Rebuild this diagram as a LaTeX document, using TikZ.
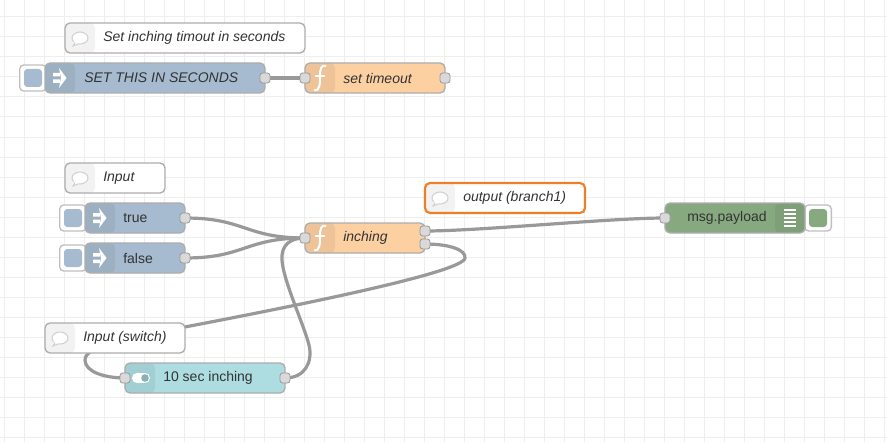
\documentclass[tikz,border=0pt]{standalone}
\usepackage{fontspec}
\setmainfont{Liberation Sans}
\usetikzlibrary{backgrounds}
\definecolor{gridline}{HTML}{EEEEEE}
\definecolor{wire}{HTML}{999999}
\definecolor{nodeline}{HTML}{ADADAD}
\definecolor{inject}{HTML}{A6BBCF}
\definecolor{func}{HTML}{FDD0A2}
\definecolor{debug}{HTML}{87A980}
\definecolor{toggle}{HTML}{ADDCE1}
\definecolor{picked}{HTML}{ED7F26}
\tikzset{
  box/.style={draw=nodeline, line width=1pt, rounded corners=3.75pt, anchor=north west,
    inner sep=0pt, outer sep=0pt, minimum height=22.5pt},
  stripleft/.style={path picture={\fill[black, opacity=.06] (path picture bounding box.north west)
    rectangle ([xshift=22.5pt]path picture bounding box.south west);}},
  stripright/.style={path picture={\fill[black, opacity=.06] (path picture bounding box.north east)
    rectangle ([xshift=-22.5pt]path picture bounding box.south east);}},
  flow/.style={box, fill=#1, stripleft},
  note/.style={box, fill=white, path picture={\fill[black!5] (path picture bounding box.north west)
    rectangle ([xshift=22.5pt]path picture bounding box.south west);}},
  button/.style={draw=black!25, line width=1pt, fill=white, rounded corners=3pt, inner sep=0pt,
    minimum width=20pt, minimum height=19.5pt},
  buttonfill/.style={fill=#1, rounded corners=2.5pt, inner sep=0pt, minimum size=13.5pt},
  port/.style={draw=wire, line width=.6pt, fill=black!15, rounded corners=2pt, inner sep=0pt,
    minimum size=7.5pt},
  lbl/.style={anchor=west, inner sep=0pt, text=black!80, font=\fontsize{10.5pt}{12pt}\selectfont},
  notelbl/.style={lbl, font=\fontsize{10.5pt}{12pt}\selectfont\itshape},
  link/.style={draw=wire, line width=2.4pt},
  pics/bubble/.style={code={
    \draw[black!18, fill=white, line width=.8pt] (0,0) ellipse (8 and 6);
    \fill[white] (-6,3) -- (-8,9) -- (-1,5) -- cycle;
    \draw[black!18, line width=.8pt] (-5,4.5) -- (-7,8) -- (-2,6);}},
  pics/arrowicon/.style={code={
    \fill[white] (-7,-5) rectangle (0,-1.5) (-7,1.5) rectangle (0,5);
    \fill[white] (-1,-10) -- (6.5,0) -- (-1,10) -- (1,0) -- cycle;}},
  pics/funcicon/.style={code={
    \draw[white, line width=1.5pt] (6,-12) .. controls (1,-14) and (0,-8) .. (0,-2)
      .. controls (0,5) and (0,14) .. (-6,12);
    \draw[white, line width=1.1pt] (-5,-2) -- (5,-2);}},
  pics/listicon/.style={code={
    \foreach \yy in {-8,-4,0,4,8} \draw[white, line width=.8pt] (-6,\yy) -- (6,\yy);}},
  pics/toggleicon/.style={code={
    \fill[white] (-4,-5) rectangle (4,5);
    \fill[white] (-4,0) circle (5) (4,0) circle (5);
    \fill[toggle!80!black] (4,0) circle (3.8);}},
}
\begin{document}
\begin{tikzpicture}[x=.75pt, y=-.75pt]
\useasboundingbox (0,0) rectangle (887,442);

% top row
\node [note, minimum width=180pt] (setnote) at (65,23) {};
\pic at (80,38) {bubble};
\node [notelbl] (setnotetext) at (103,38) {Set inching timout in seconds};
\node [button] (setbtn) at (33,78) {};
\node [buttonfill=inject] (setbtnfill) at (33,78) {};
\node [flow=inject, minimum width=165pt] (setinject) at (45,63) {};
\pic at (60,78) {arrowicon};
\node [notelbl] (setinjecttext) at (84,78) {SET THIS IN SECONDS};
\node [port] (setout) at (265,78) {};
\node [flow=func, minimum width=105pt] (timeout) at (305,63) {};
\pic at (320,78) {funcicon};
\node [notelbl] (timeouttext) at (343,78) {set timeout};
\node [port] (timeoutin) at (305,78) {};
\node [port] (timeoutout) at (445,78) {};

% inputs
\node [note, minimum width=75pt] (inputnote) at (65,163) {};
\pic at (80,178) {bubble};
\node [notelbl] (inputnotetext) at (103,178) {Input};
\node [button] (truebtn) at (73,218) {};
\node [buttonfill=inject] (truebtnfill) at (73,218) {};
\node [flow=inject, minimum width=75pt] (true) at (85,203) {};
\pic at (100,218) {arrowicon};
\node [lbl] (truetext) at (123,218) {true};
\node [port] (trueout) at (185,218) {};
\node [button] (falsebtn) at (73,258) {};
\node [buttonfill=inject] (falsebtnfill) at (73,258) {};
\node [flow=inject, minimum width=75pt] (false) at (85,243) {};
\pic at (100,258) {arrowicon};
\node [lbl] (falsetext) at (123,258) {false};
\node [port] (falseout) at (185,258) {};

% function and output
\node [flow=func, minimum width=90pt] (inching) at (305,223) {};
\pic at (320,238) {funcicon};
\node [notelbl] (inchingtext) at (343,238) {inching};
\node [port] (inchingin) at (305,238) {};
\node [port] (inchingouta) at (425,231) {};
\node [port] (inchingoutb) at (425,244) {};
\node [note, draw=picked, line width=1.6pt, minimum width=120pt] (outnote) at (425,183) {};
\pic at (440,198) {bubble};
\node [notelbl] (outnotetext) at (463,198) {output (branch1)};
\node [button] (debugbtn) at (818,218) {};
\node [buttonfill=debug] (debugbtnfill) at (818,218) {};
\node [box, fill=debug, stripright, minimum width=105pt] (debug) at (665,203) {};
\pic at (790,218) {listicon};
\node [lbl] (debugtext) at (687,218) {msg.payload};
\node [port] (debugin) at (665,218) {};

% switch
\node [note, minimum width=105pt] (switchnote) at (45,323) {};
\pic at (60,338) {bubble};
\node [notelbl] (switchnotetext) at (83,338) {Input (switch)};
\node [flow=toggle, minimum width=120pt] (switch) at (125,363) {};
\pic at (141,378) {toggleicon};
\node [lbl] (switchtext) at (163,378) {10 sec inching};
\node [port] (switchin) at (125,378) {};
\node [port] (switchout) at (285,378) {};

\begin{scope}[on background layer]
\fill [white] (0,0) rectangle (887,442);
\foreach \gx in {4,24,...,884} \draw [gridline, line width=.75pt] (\gx,0) -- (\gx,442);
\foreach \gy in {17,37,...,437} \draw [gridline, line width=.75pt] (0,\gy) -- (887,\gy);
\draw [link] (setout.center) -- (timeoutin.center);
\draw [link] (trueout.center) .. controls (245,218) and (245,238) .. (inchingin.center);
\draw [link] (falseout.center) .. controls (245,258) and (245,238) .. (inchingin.center);
\draw [link] (inchingouta.center) .. controls (480,231) and (610,218) .. (debugin.center);
\draw [link] (inchingoutb.center) .. controls (450,244) and (466,250) .. (465,258)
  .. controls (464,272) and (300,305) .. (190,326)
  .. controls (130,338) and (85,345) .. (85,360)
  .. controls (85,372) and (105,378) .. (switchin.center);
\draw [link] (switchout.center) .. controls (305,378) and (313,362) .. (309,345)
  .. controls (304,325) and (283,280) .. (282,260)
  .. controls (281,245) and (290,238) .. (inchingin.center);
\end{scope}
\end{tikzpicture}
\end{document}
